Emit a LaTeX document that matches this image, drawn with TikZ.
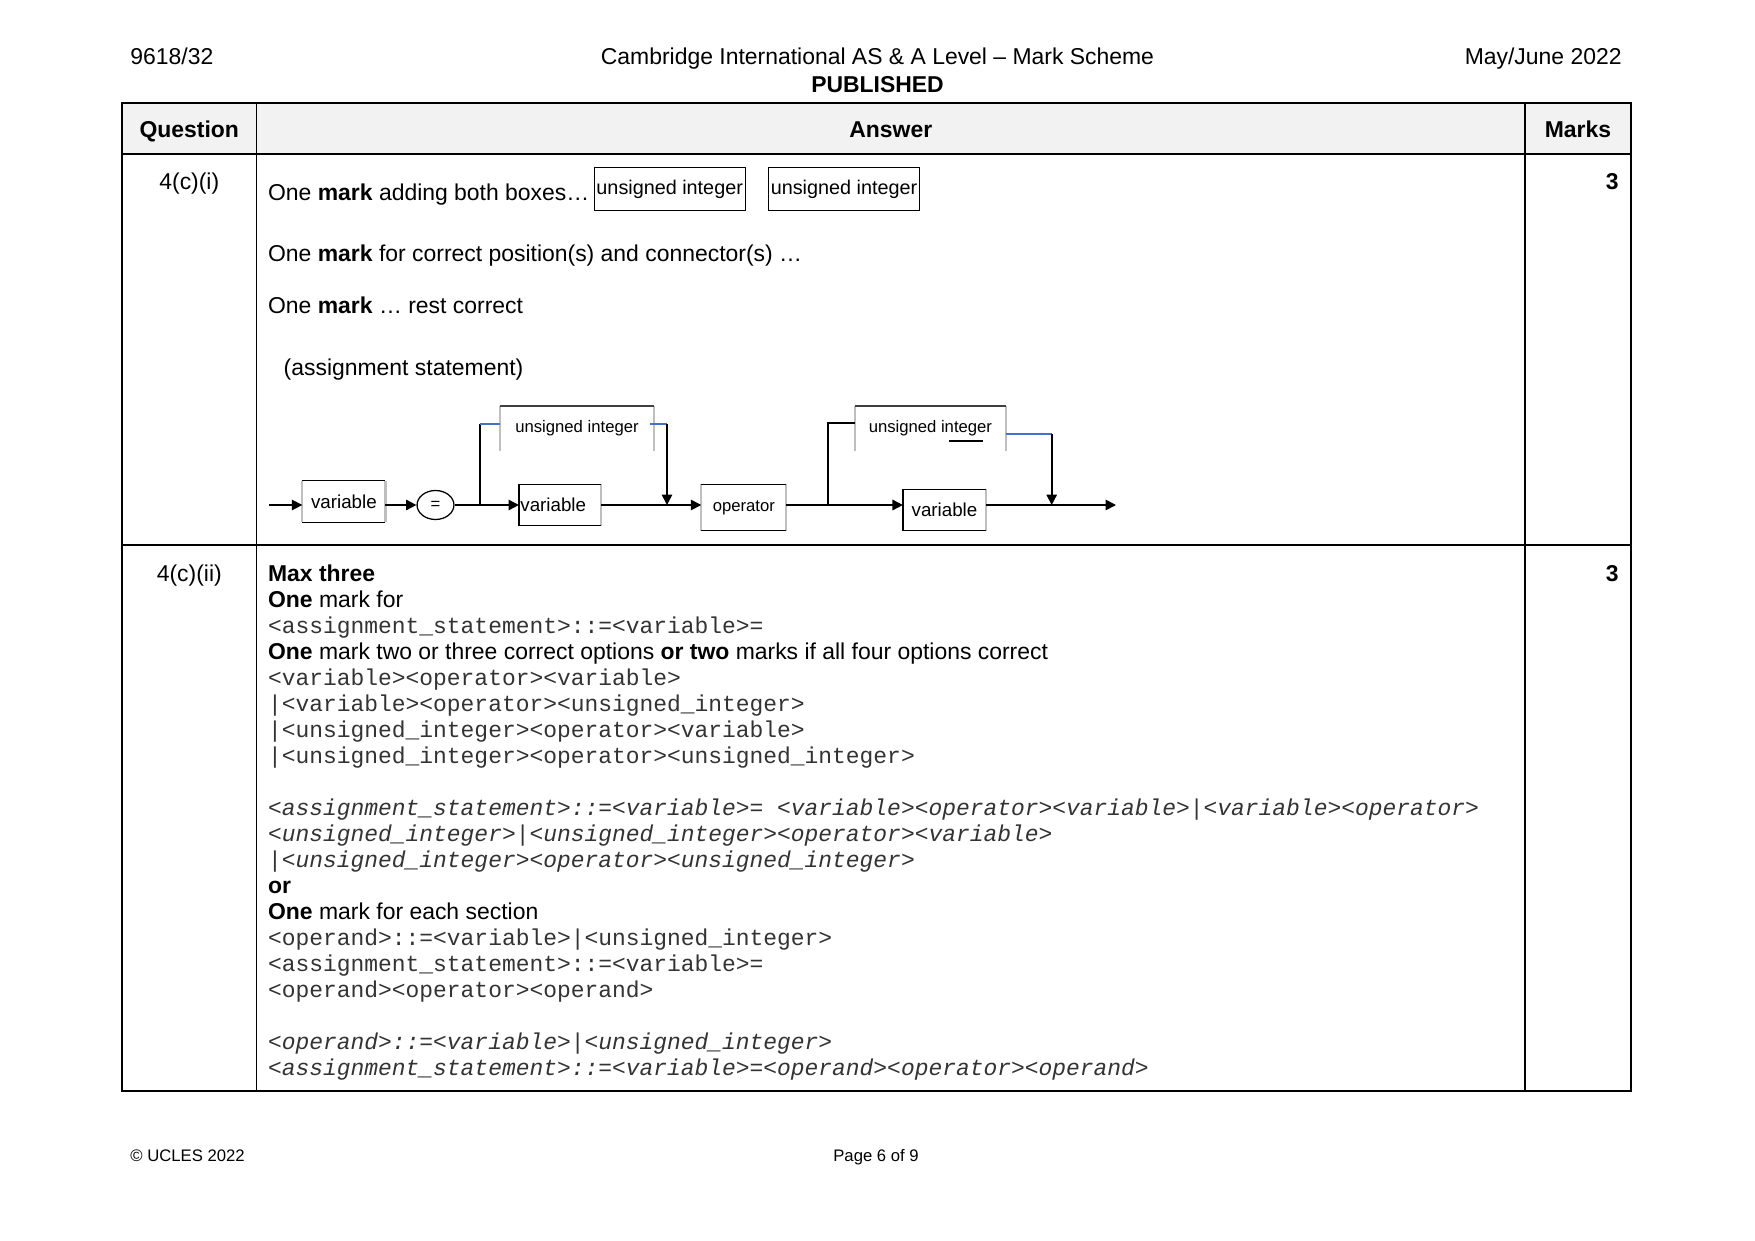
\documentclass[tikz,border=0pt]{standalone}
\usepackage{fontspec}
\setmainfont{Liberation Sans}
\setmonofont{Liberation Mono}
\usetikzlibrary{arrows.meta,shapes.geometric,positioning}
\definecolor{linkblue}{HTML}{4472C4}
\definecolor{headgrey}{HTML}{F2F2F2}
\newcommand{\elevenpt}{\fontsize{11}{13}\selectfont}
\tikzset{
    %Define standard arrow tip
    >={Triangle[length=5pt,width=5pt]},
    %Define styles for text lines
    bodyline/.style={inner sep=0pt, anchor=base west, font=\elevenpt},
    centreline/.style={inner sep=0pt, anchor=base, font=\elevenpt},
    codeline/.style={inner sep=0pt, anchor=base west, text=black!80,
           font=\elevenpt\ttfamily},
    codeital/.style={codeline, font=\elevenpt\ttfamily\itshape},
    footline/.style={inner sep=0pt, anchor=base, font=\fontsize{8}{10}\selectfont},
    %Define style for boxes
    markbox/.style={
           rectangle,
           draw=black, line width=.6pt,
           minimum width=72.4pt,
           minimum height=20.5pt,
           inner sep=0pt,
           font=\fontsize{9.5}{11}\selectfont},
    railbox/.style={
           rectangle,
           minimum width=39.5pt,
           minimum height=19.5pt,
           inner sep=0pt,
           font=\fontsize{9}{11}\selectfont},
    railboxleft/.style={railbox, text width=38pt, align=left, inner xsep=.5pt},
    intbox/.style={
           rectangle,
           minimum width=73.2pt,
           minimum height=21.1pt,
           inner sep=0pt,
           font=\fontsize{8}{10}\selectfont},
    termbox/.style={
           ellipse,
           draw=black, line width=.6pt,
           minimum width=17.7pt,
           minimum height=13.9pt,
           inner sep=0pt,
           font=\fontsize{8}{10}\selectfont},
    % Define line styles
    rule/.style={line width=.7pt},
    flow/.style={line width=.8pt},
    bluelink/.style={flow, draw=linkblue},
    sideline/.style={line width=1pt, draw=black!25},
    edgeline/.style={line width=.6pt}
}
\begin{document}
\begin{tikzpicture}[x=0.4797pt, y=-0.4797pt]
\fill[white] (0,0) rectangle (1755,1241);
\useasboundingbox (0,0) rectangle (1755,1241);
%page header
\node[bodyline] (paper) at (130,65) {9618/32};
\node[centreline] (title) at (877.5,65) {Cambridge International AS \& A Level – Mark Scheme};
\node[centreline] (published) at (877.5,93) {\textbf{PUBLISHED}};
\node[bodyline, anchor=base east] (session) at (1622,65) {May/June 2022};
%table
\fill[headgrey] (122,103) rectangle (1631,154);
\draw[rule] (122,103) rectangle (1631,1091);
\draw[rule] (122,154) -- (1631,154) (122,545) -- (1631,545)
    (256.5,103) -- (256.5,1091) (1525,103) -- (1525,1091);
\node[centreline] (qhead) at (189.3,138) {\textbf{Question}};
\node[centreline] (ahead) at (890.8,138) {\textbf{Answer}};
\node[centreline] (mhead) at (1578,138) {\textbf{Marks}};
%row 4(c)(i)
\node[centreline] (q1) at (189.3,189.5) {4(c)(i)};
\node[bodyline, anchor=base east] (m1) at (1619,189.5) {\textbf{3}};
\node[bodyline] (a1) at (267.7,200) {One \textbf{mark} adding both boxes…};
\node[markbox] (uibox1) at (669.7,189.2) {unsigned integer};
\node[markbox, right=10.6pt of uibox1] (uibox2) {unsigned integer};
\node[bodyline] (a2) at (267.7,261) {One \textbf{mark} for correct position(s) and connector(s) …};
\node[bodyline] (a3) at (267.7,313) {One \textbf{mark} … rest correct};
\node[bodyline] (a4) at (283.3,375) {(assignment statement)};
%syntax diagram nodes
\coordinate (rail) at (0,505);
\coordinate (in) at (269,505);
\coordinate (out) at (1116,505);
\coordinate (fork1) at (480,505);
\coordinate (join1) at (667,505);
\coordinate (fork2) at (828.3,505);
\coordinate (join2) at (1051.7,505);
\coordinate (lev1) at (0,424.3);
\coordinate (lev2) at (0,423.3);
\coordinate (lev3) at (0,434);
\node[railbox] (var1) at (343.9,501.5) {variable};
\node[termbox] (eq) at (435.5,505) {=};
\node[railboxleft, minimum width=39pt] (var2) at (560,505) {variable};
\node[railbox, minimum width=40.4pt, minimum height=21.9pt,
    font=\fontsize{8}{10}\selectfont] (op) at (743.8,507.5) {operator};
\node[railbox] (var3) at (944.5,510) {variable};
\node[intbox] (ui1) at (577,428.5) {unsigned integer};
\node[intbox, minimum width=71.7pt] (ui2) at (930.4,428.5) {unsigned integer};
%box frames
\foreach \b in {var1,var2,op,var3}{
    \draw[sideline] (\b.north west) -- (\b.south west) (\b.north east) -- (\b.south east);
    \draw[edgeline] (\b.north west) -- (\b.north east) (\b.south west) -- (\b.south east);
}
\draw[edgeline] (var2.north west) -- (var2.south west) (var3.north west) -- (var3.south west);
\foreach \b in {ui1,ui2}{
    \draw[sideline] (\b.south west) -- (\b.north west) (\b.south east) -- (\b.north east);
    \draw[edgeline, draw=black!75] (\b.north west) -- (\b.north east);
}
\draw[line width=.5pt] (949.3,441) -- (983.3,441);
%connectors
\path[flow, ->]
    (in) edge (var1.west |- rail)
    (var1.east |- rail) edge (eq.west)
    (eq.east) edge (var2.west |- rail)
    (var2.east |- rail) edge (op.west |- rail)
    (op.east |- rail) edge (var3.west |- rail)
    (var3.east |- rail) edge (out);
\draw[flow] (fork1) -- (fork1 |- lev1);
\draw[bluelink] (fork1 |- lev1) -- (ui1.west |- lev1);
\draw[bluelink] ([xshift=-2pt]ui1.east |- lev1) -- (join1 |- lev1);
\draw[flow, ->] (join1 |- lev1) -- (join1);
\draw[flow] (fork2) -- (fork2 |- lev2) -- (ui2.west |- lev2);
\draw[bluelink] (ui2.east |- lev3) -- (join2 |- lev3);
\draw[flow, ->] (join2 |- lev3) -- (join2);
%row 4(c)(ii)
\node[centreline] (q2) at (189.3,581) {4(c)(ii)};
\node[bodyline, anchor=base east] (m2) at (1619,581) {\textbf{3}};
\node[bodyline] (b0) at (267.7,581) {\textbf{Max three}};
\node[bodyline] (b1) at (267.7,607) {\textbf{One} mark for};
\node[codeline] (b2) at (267.7,633) {<assignment\_statement>::=<variable>=};
\node[bodyline] (b3) at (267.7,659) {\textbf{One} mark two or three correct options \textbf{or two} marks if all four options correct};
\node[codeline] (b4) at (267.7,685) {<variable><operator><variable>};
\node[codeline] (b5) at (267.7,711) {|<variable><operator><unsigned\_integer>};
\node[codeline] (b6) at (267.7,737) {|<unsigned\_integer><operator><variable>};
\node[codeline] (b7) at (267.7,763) {|<unsigned\_integer><operator><unsigned\_integer>};
\node[codeital] (b9) at (267.7,815) {<assignment\_statement>::=<variable>= <variable><operator><variable>|<variable><operator>};
\node[codeital] (b10) at (267.7,841) {<unsigned\_integer>|<unsigned\_integer><operator><variable>};
\node[codeital] (b11) at (267.7,867) {|<unsigned\_integer><operator><unsigned\_integer>};
\node[bodyline] (b12) at (267.7,893) {\textbf{or}};
\node[bodyline] (b13) at (267.7,919) {\textbf{One} mark for each section};
\node[codeline] (b14) at (267.7,945) {<operand>::=<variable>|<unsigned\_integer>};
\node[codeline] (b15) at (267.7,971) {<assignment\_statement>::=<variable>=};
\node[codeline] (b16) at (267.7,997) {<operand><operator><operand>};
\node[codeital] (b18) at (267.7,1049) {<operand>::=<variable>|<unsigned\_integer>};
\node[codeital] (b19) at (267.7,1075) {<assignment\_statement>::=<variable>=<operand><operator><operand>};
%page footer
\node[footline, anchor=base west] (copy) at (130,1161) {© UCLES 2022};
\node[footline] (page) at (876,1161) {Page 6 of 9};
\end{tikzpicture}
\end{document}
